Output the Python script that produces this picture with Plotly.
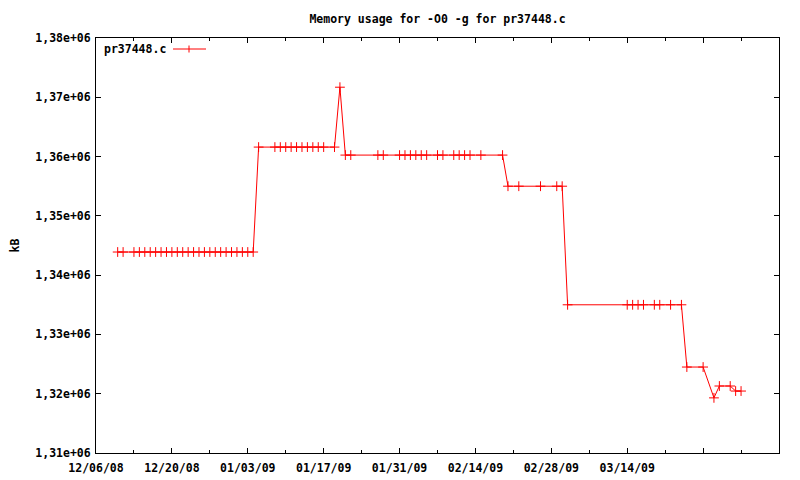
import plotly.graph_objects as go

# ---- data ----
dates = [
    "2008-12-10", "2008-12-11", "2008-12-13", "2008-12-14", "2008-12-15", "2008-12-16",
    "2008-12-17", "2008-12-18", "2008-12-19", "2008-12-20", "2008-12-21", "2008-12-22",
    "2008-12-23", "2008-12-24", "2008-12-25", "2008-12-26", "2008-12-27", "2008-12-28",
    "2008-12-29", "2008-12-30", "2008-12-31", "2009-01-01", "2009-01-02", "2009-01-03",
    "2009-01-04",
    "2009-01-05", "2009-01-08", "2009-01-09", "2009-01-10", "2009-01-11", "2009-01-12",
    "2009-01-13", "2009-01-14", "2009-01-15", "2009-01-16", "2009-01-17", "2009-01-19",
    "2009-01-20",
    "2009-01-21", "2009-01-22", "2009-01-27", "2009-01-28", "2009-01-31", "2009-02-01",
    "2009-02-02", "2009-02-03", "2009-02-04", "2009-02-05", "2009-02-07", "2009-02-08",
    "2009-02-10", "2009-02-11", "2009-02-12", "2009-02-13", "2009-02-15", "2009-02-19",
    "2009-02-20", "2009-02-22", "2009-02-26", "2009-03-01", "2009-03-02",
    "2009-03-03", "2009-03-14", "2009-03-15", "2009-03-16", "2009-03-17", "2009-03-19",
    "2009-03-20", "2009-03-22", "2009-03-24",
    "2009-03-25", "2009-03-28",
    "2009-03-30",
    "2009-03-31", "2009-04-02",
    "2009-04-03", "2009-04-04",
]
memory_kb = [
    1343900, 1343900, 1343900, 1343900, 1343900, 1343900,
    1343900, 1343900, 1343900, 1343900, 1343900, 1343900,
    1343900, 1343900, 1343900, 1343900, 1343900, 1343900,
    1343900, 1343900, 1343900, 1343900, 1343900, 1343900,
    1343900,
    1361600, 1361600, 1361600, 1361600, 1361600, 1361600,
    1361600, 1361600, 1361600, 1361600, 1361600, 1361600,
    1371700,
    1360250, 1360250, 1360250, 1360250, 1360250, 1360250,
    1360250, 1360250, 1360250, 1360250, 1360250, 1360250,
    1360250, 1360250, 1360250, 1360250, 1360250, 1360250,
    1355000, 1355000, 1355000, 1355000, 1355000,
    1335000, 1335000, 1335000, 1335000, 1335000, 1335000,
    1335000, 1335000, 1335000,
    1324500, 1324500,
    1319300,
    1321300, 1321300,
    1320450, 1320450,
]
series_name = "pr37448.c"
x_tick_vals = ["2008-12-06", "2008-12-20", "2009-01-03", "2009-01-17", "2009-01-31",
               "2009-02-14", "2009-02-28", "2009-03-14", "2009-03-28", "2009-04-11"]
x_tick_text = ["12/06/08", "12/20/08", "01/03/09", "01/17/09", "01/31/09",
               "02/14/09", "02/28/09", "03/14/09", "", ""]
y_tick_vals = [1310000, 1320000, 1330000, 1340000, 1350000, 1360000, 1370000, 1380000]
y_tick_text = ["1,31e+06", "1,32e+06", "1,33e+06", "1,34e+06", "1,35e+06",
               "1,36e+06", "1,37e+06", "1,38e+06"]

RED = "#ff0000"
FONT = "DejaVu Sans Mono"
FS = 11.5

# page body has an 8px default margin, so the figure is 792x472
W, H = 792, 472
OFF = 8
L, R, T, B = 96 - OFF, W - (779 - OFF), 38 - OFF, H - (453 - OFF)

fig = go.Figure()
fig.add_trace(go.Scatter(
    x=dates, y=memory_kb, mode="lines+markers", name=series_name,
    line=dict(color=RED, width=1),
    marker=dict(symbol="cross-thin", size=7, line=dict(color=RED, width=1), color=RED),
    showlegend=False,
))

fig.update_layout(
    width=W, height=H,
    margin=dict(l=L, r=R, t=T, b=B, autoexpand=False),
    paper_bgcolor="white", plot_bgcolor="white",
    font=dict(family=FONT, size=FS, color="black"),
    title=dict(text="Memory usage for -O0 -g for pr37448.c",
               x=0.5, xref="paper", y=1 - (19 - OFF) / H, yref="container",
               xanchor="center", yanchor="middle",
               font=dict(family=FONT, size=FS, weight="bold")),
    xaxis=dict(
        type="date", range=[x_tick_vals[0], x_tick_vals[-1]], automargin=False,
        tickmode="array", tickvals=x_tick_vals, ticktext=x_tick_text,
        ticks="inside", ticklen=5, tickcolor="black", tickwidth=1,
        showline=True, linecolor="black", linewidth=1, mirror="allticks",
        showgrid=False, zeroline=False, ticklabelstandoff=4,
        tickfont=dict(family=FONT, size=FS, weight="bold"),
        minor=dict(ticks="inside", ticklen=3, tickcolor="black",
                   tick0="2008-12-13", dtick=7 * 86400000, showgrid=False),
    ),
    yaxis=dict(
        range=[1310000, 1380000], automargin=False,
        tickmode="array", tickvals=y_tick_vals, ticktext=y_tick_text,
        ticks="inside", ticklen=5, tickcolor="black", tickwidth=1,
        showline=True, linecolor="black", linewidth=1, mirror="allticks",
        showgrid=False, zeroline=False, ticklabelstandoff=2,
        tickfont=dict(family=FONT, size=FS, weight="bold"),
        title=dict(text="kB", font=dict(family=FONT, size=FS, weight="bold"), standoff=18),
    ),
    hovermode=False,
)

# gnuplot-style key: text on the left, line sample with cross on the right
pw = W - L - R
ph = H - T - B
ky = (453 - 49) / ph
fig.add_annotation(text=series_name, xref="paper", yref="paper",
                   x=(102 - 96) / pw, y=ky, xanchor="left", yanchor="middle",
                   showarrow=False, font=dict(family=FONT, size=FS, weight="bold"))
fig.add_shape(type="line", xref="paper", yref="paper",
              x0=(173 - 96) / pw, x1=(206 - 96) / pw, y0=ky, y1=ky,
              line=dict(color=RED, width=1))
fig.add_shape(type="line", xref="paper", yref="paper",
              x0=(189 - 96) / pw, x1=(189 - 96) / pw, y0=ky - 3.5 / ph, y1=ky + 3.5 / ph,
              line=dict(color=RED, width=1))

fig.write_html("out.html")
